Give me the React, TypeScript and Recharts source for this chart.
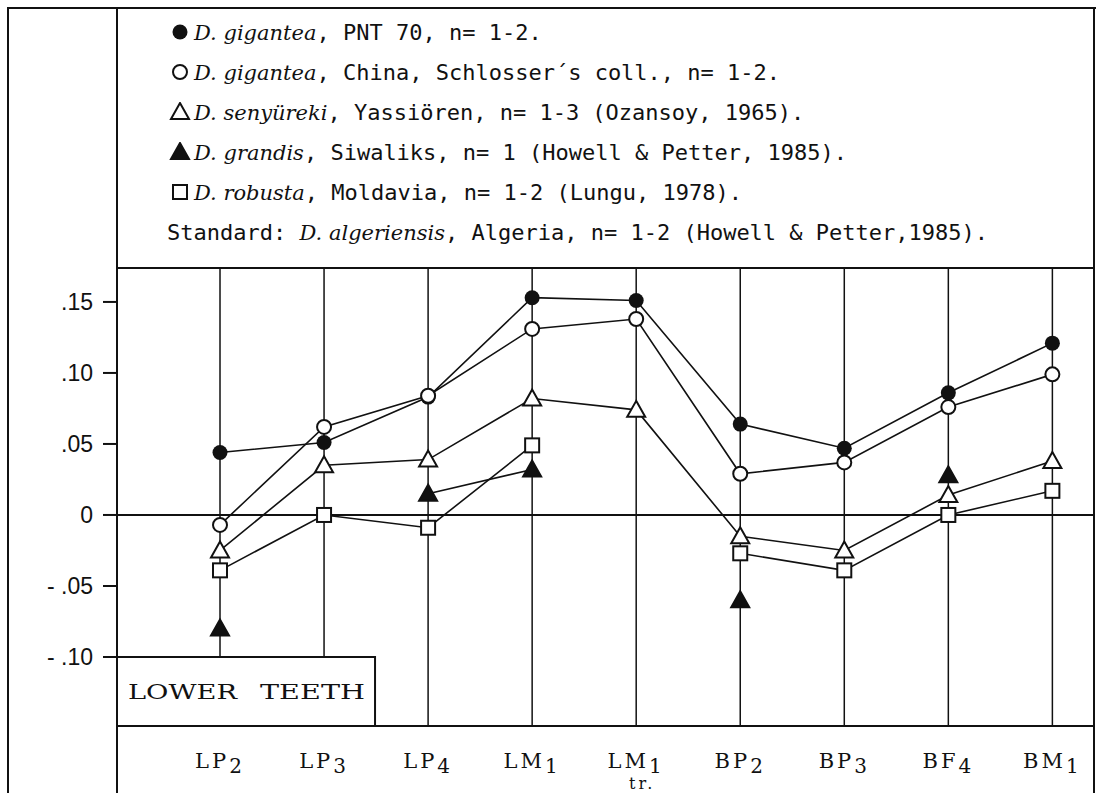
import React from 'react';
import { LineChart, Line, XAxis, YAxis, CartesianGrid, ReferenceLine, ReferenceArea } from 'recharts';

// tooth measurements, log-ratio diagram against D. algeriensis
const categories = ['LP2', 'LP3', 'LP4', 'LM1', 'LM1 tr.', 'BP2', 'BP3', 'BF4', 'BM1'];
const tickMain = ['LP', 'LP', 'LP', 'LM', 'LM', 'BP', 'BP', 'BF', 'BM'];
const tickSub = ['2', '3', '4', '1', '1', '2', '3', '4', '1'];
const tickUnder = ['', '', '', '', 'tr.', '', '', '', ''];

const giganteaPnt = [0.044, 0.051, 0.083, 0.153, 0.151, 0.064, 0.047, 0.086, 0.121];
const giganteaChina = [-0.007, 0.062, 0.084, 0.131, 0.138, 0.029, 0.037, 0.076, 0.099];
const senyureki = [-0.025, 0.035, 0.039, 0.082, 0.074, -0.015, -0.025, 0.014, 0.038];
const grandis = [-0.08, null, 0.015, 0.032, null, -0.06, null, 0.028, null];
const robusta = [-0.039, 0.0, -0.009, 0.049, null, -0.027, -0.039, 0.0, 0.017];

const yTicks = [0.15, 0.1, 0.05, 0, -0.05, -0.1];

const legendMarks = ['dotFill', 'dotOpen', 'triOpen', 'triFill', 'square', ''];
const legendLead = ['', '', '', '', '', 'Standard: '];
const legendSpecies = ['D. gigantea', 'D. gigantea', 'D. senyüreki', 'D. grandis', 'D. robusta', 'D. algeriensis'];
const legendRest = [
  ', PNT 70, n= 1-2.',
  ', China, Schlosser\u00b4s coll., n= 1-2.',
  ', Yassiören, n= 1-3 (Ozansoy, 1965).',
  ', Siwaliks, n= 1 (Howell & Petter, 1985).',
  ', Moldavia, n= 1-2 (Lungu, 1978).',
  ', Algeria, n= 1-2 (Howell & Petter,1985).',
];

const data = categories.map((name, i) => ({
  x: i,
  name,
  pnt: giganteaPnt[i],
  china: giganteaChina[i],
  seny: senyureki[i],
  grandis: grandis[i],
  robusta: robusta[i],
}));

const INK = '#111';

function Mark({ kind, cx, cy }: { kind: string; cx: number; cy: number }) {
  if (kind === 'dotFill') return <circle cx={cx} cy={cy} r={7.5} fill={INK} />;
  if (kind === 'dotOpen') return <circle cx={cx} cy={cy} r={7} fill="#fff" stroke={INK} strokeWidth={2} />;
  if (kind === 'triOpen' || kind === 'triFill') {
    const pts = `${cx},${cy - 9} ${cx - 9},${cy + 7} ${cx + 9},${cy + 7}`;
    return <polygon points={pts} fill={kind === 'triFill' ? INK : '#fff'} stroke={INK} strokeWidth={2} />;
  }
  if (kind === 'square') return <rect x={cx - 7} y={cy - 7} width={14} height={14} fill="#fff" stroke={INK} strokeWidth={2} />;
  return null;
}

const makeDot = (kind: string) => (props: any) => {
  const { cx, cy, value, index } = props;
  if (value == null || cy == null || isNaN(cy)) return <g key={`e-${index}`} />;
  return (
    <g key={`d-${index}`}>
      <Mark kind={kind} cx={cx} cy={cy} />
    </g>
  );
};

const XTick = (props: any) => {
  const { x, y, payload } = props;
  const i = payload.value;
  return (
    <g>
      <text x={x} y={y + 42} textAnchor="middle" fontFamily="DejaVu Serif" fontSize={21} letterSpacing={3} fill={INK}>
        {tickMain[i]}
        <tspan fontSize={20} dy={5}>{tickSub[i]}</tspan>
      </text>
      {tickUnder[i] && (
        <text x={x + 6} y={y + 63} textAnchor="middle" fontFamily="DejaVu Serif" fontSize={16} letterSpacing={3} fill={INK}>
          {tickUnder[i]}
        </text>
      )}
    </g>
  );
};

const fmtY = (v: number) => {
  if (v === 0) return '0';
  const s = Math.abs(v).toFixed(2).replace(/^0/, '');
  return v < 0 ? '- ' + s : s;
};

const BoxLabel = (props: any) => {
  const vb = props.viewBox || {};
  const ty = vb.y + vb.height / 2 + 1;
  return (
    <g fill={INK} fontFamily="DejaVu Serif" fontSize={20}>
      <text x={vb.x + 11} y={ty} dominantBaseline="central" textLength={109} lengthAdjust="spacingAndGlyphs">
        LOWER
      </text>
      <text x={vb.x + 143} y={ty} dominantBaseline="central" textLength={105} lengthAdjust="spacingAndGlyphs">
        TEETH
      </text>
    </g>
  );
};

const line = (l: number, t: number, w: number, h: number): React.CSSProperties => ({
  position: 'absolute',
  left: l,
  top: t,
  width: w,
  height: h,
  background: INK,
});

export default function App() {
  return (
    <div style={{ position: 'absolute', left: 0, top: 0, width: 1099, height: 793, background: '#fff', overflow: 'hidden' }}>
      <LineChart width={1099} height={793} data={data} margin={{ top: 268, right: 5, bottom: 0, left: 0 }}>
        <CartesianGrid horizontal={false} stroke={INK} strokeWidth={1.5} />
        <XAxis
          type="number"
          dataKey="x"
          domain={[-0.99, 8.4]}
          ticks={[0, 1, 2, 3, 4, 5, 6, 7, 8]}
          interval={0}
          allowDataOverflow
          height={67}
          tickLine={false}
          tickSize={0}
          tickMargin={0}
          axisLine={{ stroke: INK, strokeWidth: 2 }}
          tick={<XTick />}
        />
        <YAxis
          type="number"
          domain={[-0.1486, 0.1739]}
          ticks={yTicks}
          interval={0}
          allowDataOverflow
          width={117}
          tickSize={14}
          tickMargin={10}
          tickFormatter={fmtY}
          tickLine={{ stroke: INK, strokeWidth: 2 }}
          axisLine={{ stroke: INK, strokeWidth: 2 }}
          tick={{ fill: INK, fontSize: 23, fontFamily: 'Liberation Sans' }}
        />
        <ReferenceLine y={0} stroke={INK} strokeWidth={2} />
        <ReferenceArea
          x1={-0.99}
          x2={1.49}
          y1={-0.1486}
          y2={-0.1}
          fill="#fff"
          fillOpacity={1}
          stroke={INK}
          strokeWidth={2}
          label={<BoxLabel />}
        />
        <Line dataKey="pnt" stroke={INK} strokeWidth={1.6} dot={makeDot('dotFill')} isAnimationActive={false} />
        <Line dataKey="china" stroke={INK} strokeWidth={1.6} dot={makeDot('dotOpen')} isAnimationActive={false} />
        <Line dataKey="seny" stroke={INK} strokeWidth={1.6} dot={makeDot('triOpen')} isAnimationActive={false} />
        <Line dataKey="robusta" stroke={INK} strokeWidth={1.6} dot={makeDot('square')} isAnimationActive={false} />
        <Line dataKey="grandis" stroke={INK} strokeWidth={1.6} dot={makeDot('triFill')} isAnimationActive={false} />
      </LineChart>

      {/* frame */}
      <div style={line(7, 7, 1089, 2)} />
      <div style={line(7, 7, 2, 786)} />
      <div style={line(116, 7, 2, 786)} />
      <div style={line(1093, 7, 2, 786)} />
      <div style={line(116, 267, 979, 2)} />

      {/* legend */}
      {legendSpecies.map((sp, i) => (
        <div
          key={i}
          style={{
            position: 'absolute',
            left: 167,
            top: 33 + i * 40 - 14,
            height: 28,
            lineHeight: '28px',
            fontFamily: 'DejaVu Sans Mono',
            fontSize: 22,
            color: INK,
            whiteSpace: 'pre',
          }}
        >
          {legendMarks[i] && (
            <svg width={27} height={20} style={{ verticalAlign: -2 }}>
              <Mark kind={legendMarks[i]} cx={13} cy={10} />
            </svg>
          )}
          {legendLead[i]}
          <span style={{ fontFamily: 'DejaVu Serif', fontStyle: 'italic', fontSize: 21 }}>{sp}</span>
          {legendRest[i]}
        </div>
      ))}
    </div>
  );
}
